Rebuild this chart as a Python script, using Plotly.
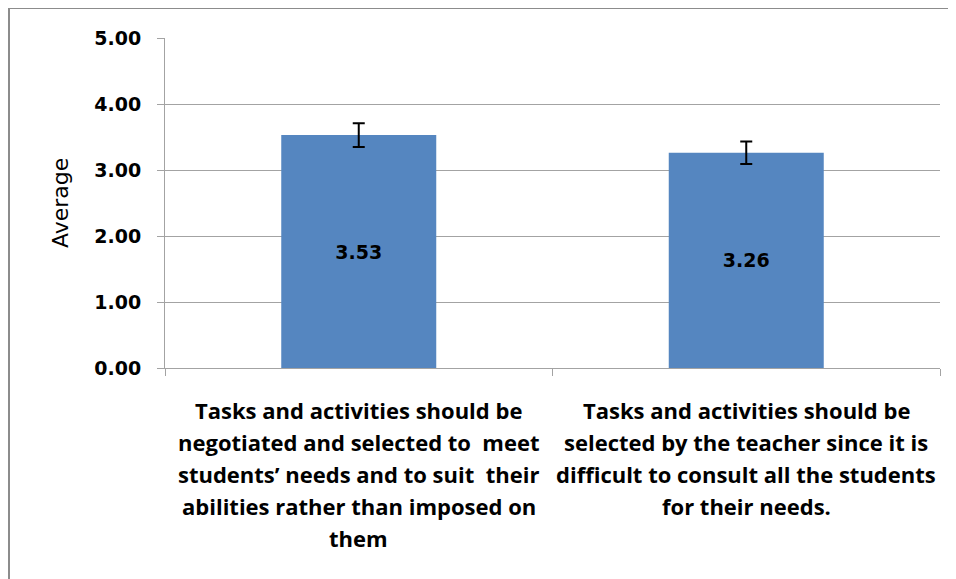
import plotly.graph_objects as go

categories = [
    "Tasks and activities should be<br>negotiated and selected to  meet<br>students’ needs and to suit  their<br>abilities rather than imposed on<br>them",
    "Tasks and activities should be<br>selected by the teacher since it is<br>difficult to consult all the students<br>for their needs.",
]
averages = [3.53, 3.26]
errors = [0.18, 0.17]
y_ticks = [0, 1, 2, 3, 4, 5]
y_title = "Average"

BAR = "#5586c0"
GRID = "#a3a3a3"
NUM_FONT = "DejaVu Sans, Verdana, sans-serif"
CAT_FONT = "Open Sans, Lato, Liberation Sans, Arial"

# page body has an 8px margin; compensate so the plot sits where the reference has it
OFF = 8
L, R, T, B = 165, 940, 38, 368   # plot-area pixel edges in the window

fig = go.Figure()
fig.add_trace(go.Bar(
    x=categories,
    y=averages,
    width=0.4,
    marker=dict(color=BAR, line=dict(width=0)),
    error_y=dict(type="data", array=errors, visible=True, color="#000000", thickness=2, width=6),
    text=[f"{v:.2f}" for v in averages],
    textposition="inside",
    insidetextanchor="middle",
    textangle=0,
    textfont=dict(family=NUM_FONT, size=19, color="#000000", weight="bold"),
    hoverinfo="skip",
))

annotations = []
for cat in categories:
    for i, line in enumerate(cat.split("<br>")):
        annotations.append(dict(
            x=cat, y=0, xref="x", yref="y",
            text=line, showarrow=False,
            yanchor="middle", xanchor="center",
            yshift=-(42 + 32 * i),
            font=dict(family=CAT_FONT, size=22, color="#000000", weight="bold"),
        ))

pw, ph = R - L, B - T
annotations.append(dict(
    x=(60 - L) / pw, y=0.5, xref="paper", yref="paper",
    text=y_title, showarrow=False, textangle=-90,
    xanchor="center", yanchor="middle",
    font=dict(family=NUM_FONT, size=22, color="#000000"),
))

fig.update_layout(
    width=956, height=579,
    margin=dict(l=L - OFF, r=956 + OFF - R, t=T - OFF, b=579 + OFF - B),
    paper_bgcolor="white", plot_bgcolor="white",
    showlegend=False,
    annotations=annotations,
    shapes=[
        dict(type="line", xref="paper", yref="paper",
             x0=(9 - L) / pw, x1=(9 - L) / pw, y0=(B - 8) / ph, y1=(B - 620) / ph,
             line=dict(color="#8c8c8c", width=2)),
        dict(type="line", xref="paper", yref="paper",
             x0=(8 - L) / pw, x1=(990 - L) / pw, y0=(B - 8) / ph, y1=(B - 8) / ph,
             line=dict(color="#8c8c8c", width=2)),
    ],
)

fig.update_xaxes(
    type="category",
    showticklabels=False,
    showgrid=False,
    showline=True, linecolor=GRID, linewidth=1,
    ticks="outside", tickson="boundaries", ticklen=7, tickcolor=GRID, tickwidth=1,
)
fig.update_yaxes(
    range=[0, 5],
    tickvals=y_ticks,
    tickformat=".2f",
    showgrid=True, gridcolor=GRID, gridwidth=1,
    showline=True, linecolor=GRID, linewidth=1,
    ticks="outside", ticklen=7, tickcolor=GRID, tickwidth=1,
    ticklabelstandoff=12,
    tickfont=dict(family=NUM_FONT, size=19, color="#000000", weight="bold"),
    zeroline=False,
)

fig.write_html("out.html")
